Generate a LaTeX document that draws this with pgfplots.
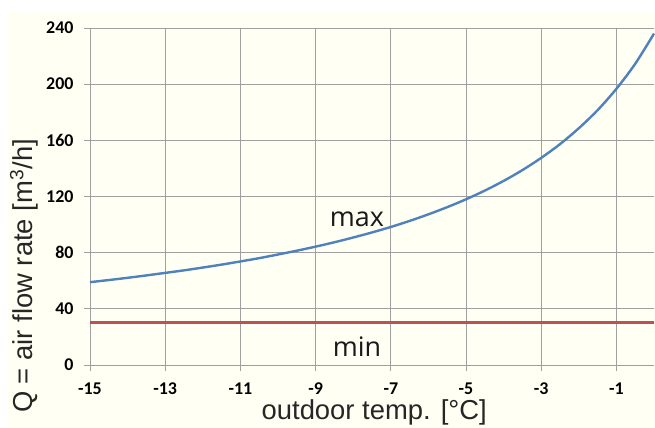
\documentclass[border=0pt]{standalone}
\usepackage{fontspec}
\setmainfont{Liberation Sans}
\newfontfamily\carlito{Carlito}
\newfontfamily\opensans{Open Sans}
\usepackage{pgfplots}
\pgfplotsset{compat=1.18}
\definecolor{exblue}{RGB}{79,129,189}
\definecolor{exred}{RGB}{192,80,77}
\definecolor{gridc}{RGB}{160,160,160}
\definecolor{cream}{RGB}{255,255,243}
\begin{document}
\begin{tikzpicture}
\useasboundingbox (-90bp,-63bp) rectangle (565bp,365bp);
\fill[cream] (-82bp,-63bp) rectangle (565bp,353bp);
\begin{axis}[
  at={(0,0)}, anchor=south west,
  scale only axis, width=564bp, height=337bp,
  xmin=-15, xmax=0, ymin=0, ymax=240,
  axis lines*=left,
  axis line style={gridc, line width=0.9bp},
  xtick={-15,-13,-11,-9,-7,-5,-3,-1},
  xticklabels={-15,-13,-11,-9,-7,-5,-3,-1},
  ytick={0,40,80,120,160,200,240},
  yticklabels={0,40,80,120,160,200,240},
  tick align=outside,
  major tick length=6bp,
  tick style={gridc, line width=0.9bp},
  grid=major,
  major grid style={gridc, line width=0.9bp},
  tick label style={font=\carlito\bfseries\fontsize{18}{18}\selectfont},
  xticklabel style={yshift=-8bp},
  yticklabel style={xshift=-7bp},
  xlabel={outdoor temp. [°C]},
  ylabel={Q = air flow rate [m\textsuperscript{3}/h]},
  label style={font=\fontsize{27.5}{27.5}\selectfont, text=black!85},
  xlabel style={at={(axis description cs:0.504,-0.142)}, anchor=center},
  ylabel style={at={(axis description cs:-0.117,0.264)}, anchor=center, rotate=0},
  clip=false,
]
\addplot[exblue, line width=2.4bp, smooth] coordinates {
(-15,59.0) (-14.5,60.5) (-14,62.1) (-13.5,63.8) (-13,65.6) (-12.5,67.4)
(-12,69.4) (-11.5,71.5) (-11,73.75) (-10.5,76.1) (-10,78.7) (-9.5,81.4)
(-9,84.3) (-8.5,87.4) (-8,90.8) (-7.5,94.4) (-7,98.3) (-6.5,102.6)
(-6,107.3) (-5.5,112.4) (-5,118.0) (-4.5,124.2) (-4,131.1) (-3.5,138.8)
(-3,147.5) (-2.5,157.3) (-2,168.6) (-1.5,181.5) (-1,196.7) (-0.5,214.5)
(0,236.0)
};
\addplot[exred, line width=2.8bp] coordinates {(-15,30) (0,30)};
\node[font=\opensans\fontsize{27}{27}\selectfont, text=black!90] at (axis cs:-7.9,104) {max};
\node[font=\opensans\fontsize{27}{27}\selectfont, text=black!90] at (axis cs:-7.9,13) {min};
\end{axis}
\end{tikzpicture}
\end{document}
